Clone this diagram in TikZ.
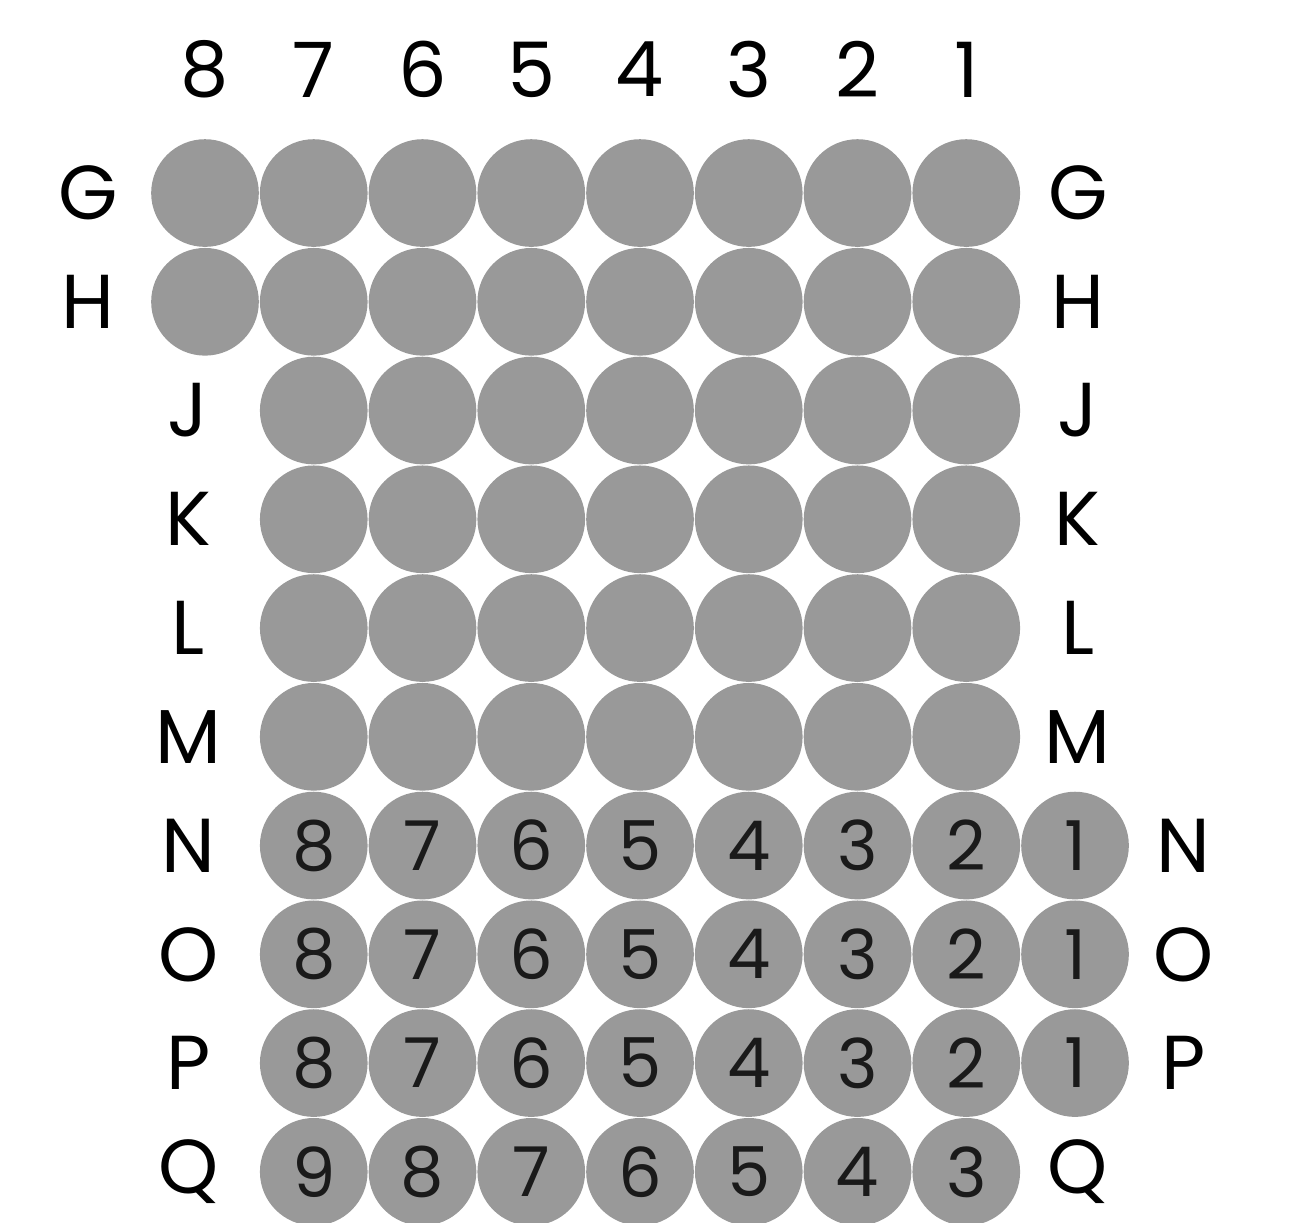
\documentclass[tikz,border=0pt]{standalone}
\usepackage{fontspec}
\setmainfont{Poppins}
\usepackage{tikz}
\usetikzlibrary{positioning}

\definecolor{ballgray}{HTML}{999999}
\definecolor{inkdark}{HTML}{1A1A1A}

\begin{document}
\begin{tikzpicture}[
  ball/.style={circle, fill=ballgray, minimum size=0.99cm, inner sep=0pt,
    font=\fontsize{18}{18}\selectfont, text=inkdark},
  lbl/.style={font=\fontsize{20}{20}\selectfont}]
\useasboundingbox (0,0) rectangle (11.88,-11.237);

% column numbers
\foreach \c [count=\i from 0] in {8,7,6,5,4,3,2,1}
  \node[lbl] (top\c) at (1.885+\i,-0.64) {\c};

% rows G and H, full width
\foreach \r [count=\j from 0] in {G,H} {
  \foreach \c [count=\i from 0] in {8,7,6,5,4,3,2,1}
    \node[ball] (\r\c) at (1.885+\i,-1.775-\j) {};
  \node[lbl] (left\r) at (0.81,-1.775-\j) {\r};
  \node[lbl] (right\r) at (9.91,-1.775-\j) {\r};
}

% rows J to M, one seat less
\foreach \r [count=\j from 2] in {J,K,L,M} {
  \foreach \c [count=\i from 1] in {7,6,5,4,3,2,1}
    \node[ball] (\r\c) at (1.885+\i,-1.775-\j) {};
  \node[lbl] (left\r) at (1.73,-1.775-\j) {\r};
  \node[lbl] (right\r) at (9.91,-1.775-\j) {\r};
}

% rows N to P, numbered
\foreach \r [count=\j from 6] in {N,O,P} {
  \foreach \c [count=\i from 1] in {8,7,6,5,4,3,2,1}
    \node[ball] (\r\c) at (1.885+\i,-1.775-\j) {\c};
  \node[lbl] (left\r) at (1.73,-1.775-\j) {\r};
  \node[lbl] (right\r) at (10.88,-1.775-\j) {\r};
}

% row Q
\foreach \c [count=\i from 1] in {9,8,7,6,5,4,3}
  \node[ball] (Q\c) at (1.885+\i,-10.775) {\c};
\node[lbl] (leftQ) at (1.73,-10.775) {Q};
\node[lbl] (rightQ) at (9.91,-10.775) {Q};
\end{tikzpicture}
\end{document}
